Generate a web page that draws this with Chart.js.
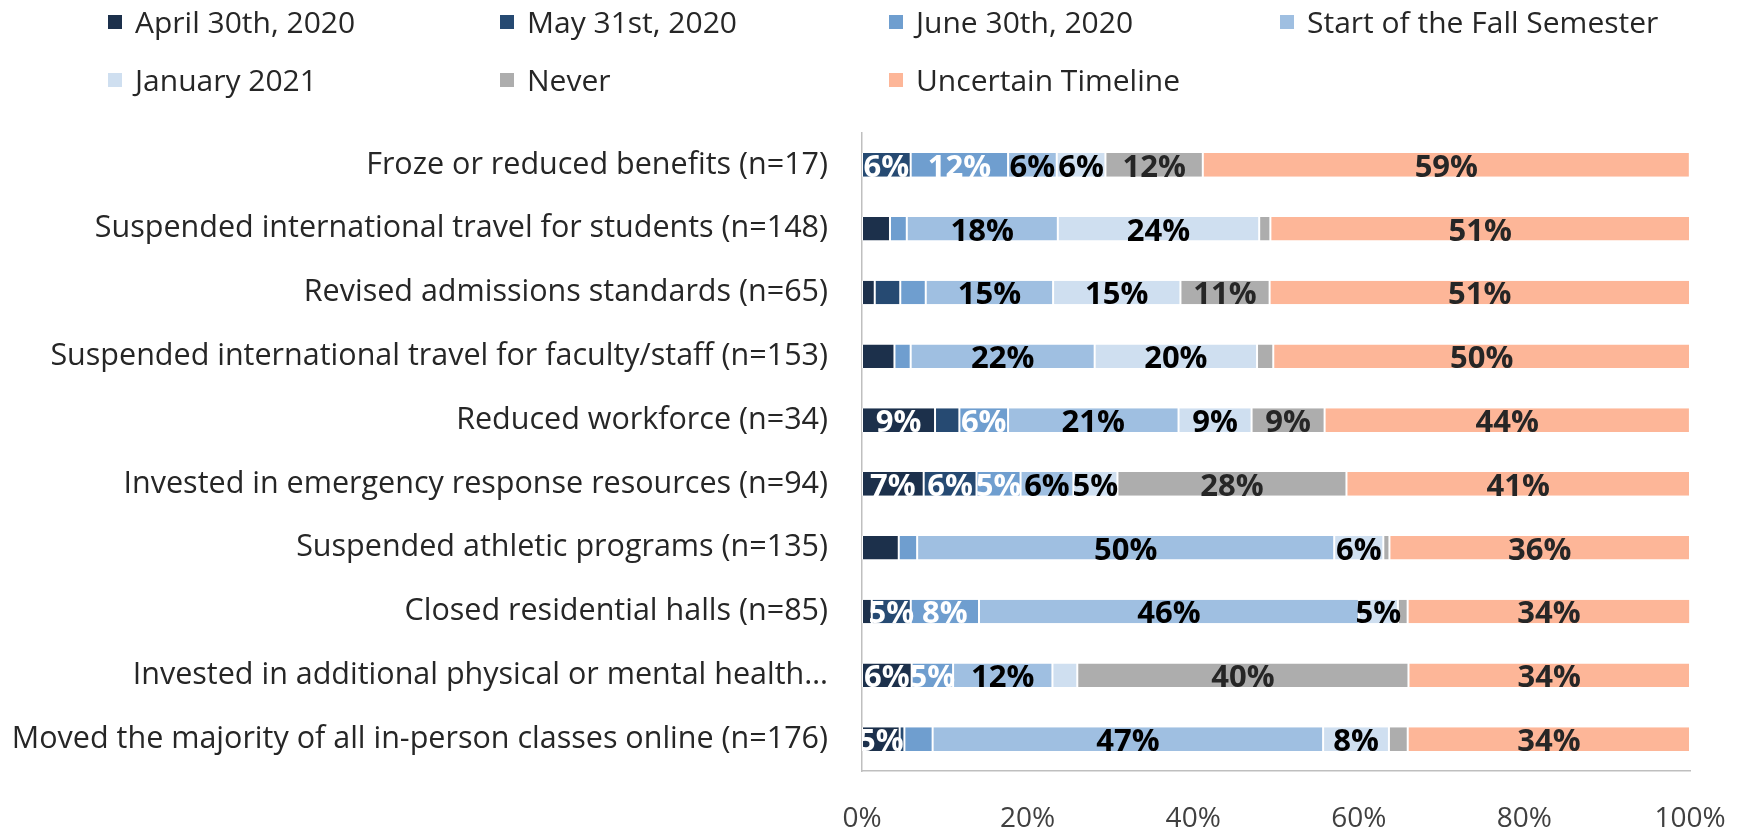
<!DOCTYPE html>
<html>
<head>
<meta charset="utf-8">
<script src="https://cdn.jsdelivr.net/npm/chart.js@4/dist/chart.umd.min.js"></script>
<style>
  html, body { margin: 0; padding: 0; background: #fff; }
  #wrap { position: relative; width: 1748px; height: 830px; overflow: hidden; }
  #c { position: absolute; left: 0; top: 0; }
  .lg { position: absolute; font-family: "Open Sans", sans-serif; font-size: 30px; color: #262626; white-space: nowrap; line-height: 30px; }
  .lg i { position: absolute; left: -27px; top: 8px; width: 14px; height: 14px; }
</style>
</head>
<body>
<div id="wrap">
  <canvas id="c" width="1748" height="830"></canvas>
  <div id="legend"></div>
</div>
<script>
const categories = [
  "Froze or reduced benefits (n=17)",
  "Suspended international travel for students (n=148)",
  "Revised admissions standards (n=65)",
  "Suspended international travel for faculty/staff (n=153)",
  "Reduced workforce (n=34)",
  "Invested in emergency response resources (n=94)",
  "Suspended athletic programs (n=135)",
  "Closed residential halls (n=85)",
  "Invested in additional physical or mental health…",
  "Moved the majority of all in-person classes online (n=176)"
];
const seriesNames = ["April 30th, 2020", "May 31st, 2020", "June 30th, 2020", "Start of the Fall Semester", "January 2021", "Never", "Uncertain Timeline"];
const april30     = [0,     3.38,  1.54,  3.92,  8.82,  7.45,  4.44,  1.18,  6.0,  4.55];
const may31       = [5.88,  0,     3.08,  0,     2.94,  6.38,  0,     4.71,  0,    0.57];
const june30      = [11.76, 2.03,  3.08,  1.96,  5.88,  5.32,  2.22,  8.24,  5.0,  3.41];
const fallStart   = [5.88,  18.24, 15.38, 22.22, 20.59, 6.38,  50.37, 45.88, 12.0, 47.16];
const january2021 = [5.88,  24.32, 15.38, 19.61, 8.82,  5.32,  5.93,  4.71,  3.0,  7.95];
const never       = [11.76, 1.35,  10.77, 1.96,  8.82,  27.66, 0.74,  1.18,  40.0, 2.27];
const uncertain   = [58.82, 50.68, 50.77, 50.33, 44.12, 41.49, 36.30, 34.12, 34.0, 34.09];
const xTicks = [0, 20, 40, 60, 80, 100];

const seriesValues = [april30, may31, june30, fallStart, january2021, never, uncertain];
const colors = ["#1c304b", "#264a72", "#6f9ecf", "#9fbfe1", "#cfdff0", "#adadad", "#fdb698"];
const labelColors = ["#ffffff", "#ffffff", "#ffffff", "#000000", "#000000", "#262626", "#262626"];

// HTML legend (fixed grid like the reference)
const legendPos = [[135, 7], [527, 7], [916, 7], [1307, 7], [135, 65], [527, 65], [916, 65]];
const legendEl = document.getElementById('legend');
seriesNames.forEach((n, i) => {
  const d = document.createElement('div');
  d.className = 'lg';
  d.style.left = legendPos[i][0] + 'px';
  d.style.top = legendPos[i][1] + 'px';
  d.innerHTML = '<i style="background:' + colors[i] + '"></i>' + n;
  legendEl.appendChild(d);
});

const labelPlugin = {
  id: 'segLabels',
  afterDatasetsDraw(chart) {
    const ctx = chart.ctx;
    const area = chart.chartArea;
    ctx.save();
    ctx.beginPath();
    ctx.rect(area.left, 0, area.right - area.left, chart.height);
    ctx.clip();
    ctx.font = 'bold 31px "Open Sans", sans-serif';
    ctx.textAlign = 'center';
    ctx.textBaseline = 'middle';
    chart.data.datasets.forEach((ds, di) => {
      const meta = chart.getDatasetMeta(di);
      meta.data.forEach((el, i) => {
        const v = ds.data[i];
        if (Math.round(v) < 5) return;
        const cx = (el.x + el.base) / 2;
        ctx.fillStyle = labelColors[di];
        ctx.fillText(Math.round(v) + '%', cx, el.y + 3);
      });
    });
    ctx.restore();
  }
};

new Chart(document.getElementById('c'), {
  type: 'bar',
  data: {
    labels: categories,
    datasets: seriesValues.map((vals, i) => ({
      label: seriesNames[i],
      data: vals,
      backgroundColor: colors[i],
      borderColor: '#ffffff',
      borderWidth: { left: 1, right: 1, top: 0, bottom: 0 },
      borderSkipped: false,
      categoryPercentage: 1,
      barPercentage: 0.37
    }))
  },
  options: {
    indexAxis: 'y',
    responsive: false,
    animation: false,
    devicePixelRatio: 1,
    layout: { padding: { top: 133, right: 58, bottom: 0, left: 0 } },
    plugins: { legend: { display: false }, tooltip: { enabled: false } },
    scales: {
      x: {
        stacked: true,
        min: 0, max: 100,
        afterBuildTicks: (s) => { s.ticks = xTicks.map(v => ({ value: v })); },
        afterFit: (s) => { s.height = 59; s.paddingLeft = 0; s.paddingRight = 0; },
        grid: { display: false, drawTicks: false },
        border: { display: true, color: '#bfbfbf', width: 1.5 },
        ticks: {
          padding: 31,
          color: '#404040',
          font: { family: '"Open Sans", sans-serif', size: 28 },
          callback: (v) => v + '%'
        }
      },
      y: {
        stacked: true,
        afterFit: (s) => { s.width = 862; s.paddingTop = 0; s.paddingBottom = 0; },
        grid: { display: false, drawTicks: false },
        border: { display: true, color: '#bfbfbf', width: 1.5 },
        ticks: {
          padding: 34,
          color: '#262626',
          font: { family: '"Open Sans", sans-serif', size: 30.5 }
        }
      }
    }
  },
  plugins: [labelPlugin]
});
</script>
</body>
</html>
